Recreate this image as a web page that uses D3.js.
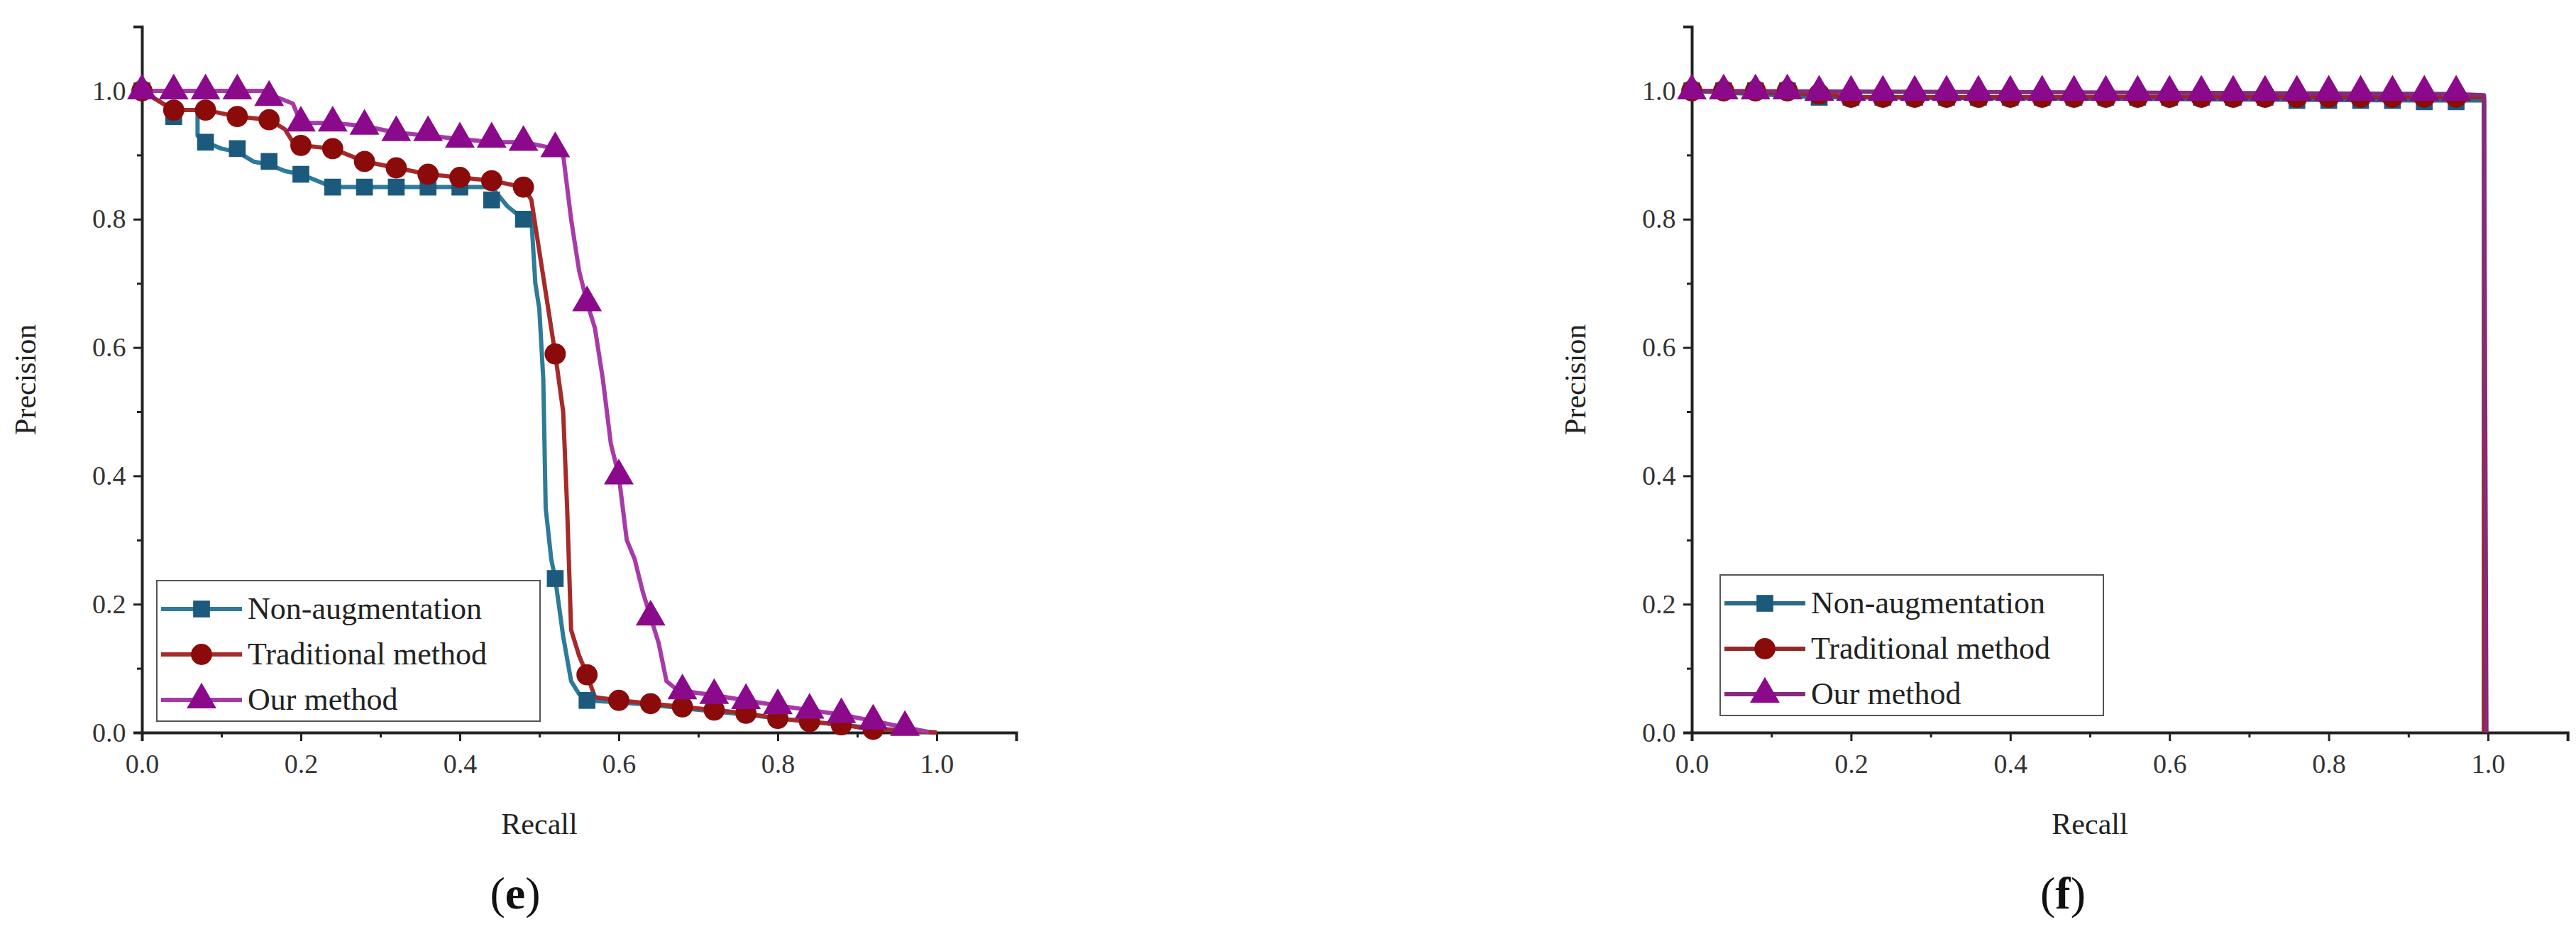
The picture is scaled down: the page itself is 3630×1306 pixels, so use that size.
<!DOCTYPE html>
<html><head><meta charset="utf-8">
<script src="https://cdn.jsdelivr.net/npm/d3@7"></script>
<style>body{margin:0;background:#fff}svg{display:block}</style></head>
<body><svg id="c" width="3630" height="1306"></svg>
<script>
const seriesNames = ["Non-augmentation","Traditional method","Our method"];
const xTicks = [0,0.2,0.4,0.6,0.8,1.0];
const yTicks = [0,0.2,0.4,0.6,0.8,1.0];
// Panel (e) lines [recall, precision]
const eNonAugLine = [[0,1],[0.04,0.97],[0.07,0.97],[0.07,0.93],[0.08,0.92],[0.1,0.91],[0.12,0.905],[0.14,0.89],[0.16,0.885],[0.18,0.875],[0.2,0.87],[0.22,0.86],[0.24,0.85],[0.44,0.85],[0.46,0.82],[0.48,0.80],[0.49,0.80],[0.495,0.70],[0.50,0.66],[0.505,0.55],[0.508,0.35],[0.515,0.27],[0.52,0.24],[0.53,0.15],[0.54,0.08],[0.55,0.06],[0.56,0.05],[0.6,0.047],[0.64,0.043],[0.68,0.038],[0.72,0.033],[0.76,0.028],[0.8,0.022],[0.84,0.017],[0.88,0.012],[0.92,0.007],[0.96,0.003],[1.0,0]];
const eNonAugPts = [[0,1],[0.04,0.96],[0.08,0.92],[0.12,0.91],[0.16,0.89],[0.2,0.87],[0.24,0.85],[0.28,0.85],[0.32,0.85],[0.36,0.85],[0.4,0.85],[0.44,0.83],[0.48,0.80],[0.52,0.24],[0.56,0.05]];
const eTradLine = [[0,1],[0.04,0.97],[0.08,0.97],[0.12,0.96],[0.16,0.955],[0.18,0.94],[0.19,0.92],[0.2,0.915],[0.24,0.91],[0.28,0.89],[0.32,0.88],[0.36,0.87],[0.4,0.865],[0.44,0.86],[0.48,0.85],[0.49,0.83],[0.5,0.75],[0.51,0.67],[0.52,0.59],[0.53,0.5],[0.535,0.35],[0.54,0.16],[0.55,0.12],[0.56,0.09],[0.57,0.055],[0.6,0.05],[0.64,0.045],[0.68,0.04],[0.72,0.035],[0.76,0.03],[0.8,0.022],[0.84,0.017],[0.88,0.012],[0.92,0.005],[0.96,0.003],[1.0,0]];
const eTradPts = [[0,1],[0.04,0.97],[0.08,0.97],[0.12,0.96],[0.16,0.955],[0.2,0.915],[0.24,0.91],[0.28,0.89],[0.32,0.88],[0.36,0.87],[0.4,0.865],[0.44,0.86],[0.48,0.85],[0.52,0.59],[0.56,0.09],[0.6,0.05],[0.64,0.045],[0.68,0.04],[0.72,0.035],[0.76,0.03],[0.8,0.022],[0.84,0.017],[0.88,0.012],[0.92,0.005]];
const eOurLine = [[0,1],[0.16,1.0],[0.17,0.99],[0.19,0.98],[0.2,0.95],[0.24,0.95],[0.28,0.945],[0.32,0.935],[0.36,0.93],[0.4,0.925],[0.44,0.92],[0.48,0.92],[0.52,0.91],[0.53,0.9],[0.54,0.8],[0.55,0.72],[0.56,0.67],[0.57,0.63],[0.58,0.55],[0.59,0.45],[0.6,0.4],[0.61,0.3],[0.62,0.27],[0.63,0.22],[0.64,0.18],[0.65,0.14],[0.66,0.08],[0.67,0.07],[0.68,0.065],[0.72,0.058],[0.76,0.05],[0.8,0.042],[0.84,0.035],[0.88,0.028],[0.92,0.018],[0.96,0.008],[0.99,0.001]];
const eOurPts = [[0,1],[0.04,1],[0.08,1],[0.12,1],[0.16,0.99],[0.2,0.95],[0.24,0.95],[0.28,0.945],[0.32,0.935],[0.36,0.935],[0.4,0.925],[0.44,0.925],[0.48,0.92],[0.52,0.91],[0.56,0.67],[0.6,0.4],[0.64,0.18],[0.68,0.065],[0.72,0.058],[0.76,0.05],[0.8,0.042],[0.84,0.035],[0.88,0.028],[0.92,0.018],[0.96,0.008]];
// Panel (f)
const fNonAugLine = [[0,1],[0.16,0.99],[0.92,0.985],[0.995,0.985],[0.995,0]];
const fNonAugPts = [[0,1],[0.04,1],[0.08,1],[0.12,1],[0.16,0.99],[0.2,0.99],[0.24,0.99],[0.28,0.99],[0.32,0.99],[0.36,0.99],[0.4,0.99],[0.44,0.99],[0.48,0.99],[0.52,0.99],[0.56,0.99],[0.6,0.99],[0.64,0.99],[0.68,0.99],[0.72,0.99],[0.76,0.985],[0.8,0.985],[0.84,0.985],[0.88,0.985],[0.92,0.983],[0.96,0.983]];
const fTradLine = [[0,1],[0.16,0.995],[0.2,0.99],[0.995,0.99],[0.995,0]];
const fTradPts = [[0,1],[0.04,1],[0.08,1],[0.12,1],[0.16,0.995],[0.2,0.99],[0.24,0.99],[0.28,0.99],[0.32,0.99],[0.36,0.99],[0.4,0.99],[0.44,0.99],[0.48,0.99],[0.52,0.99],[0.56,0.99],[0.6,0.99],[0.64,0.99],[0.68,0.99],[0.72,0.99],[0.76,0.99],[0.8,0.99],[0.84,0.99],[0.88,0.99],[0.92,0.99],[0.96,0.99]];
const fOurLine = [[0,1],[0.96,0.995],[0.995,0.993],[0.998,0]];
const fOurPts = [[0,1],[0.04,1],[0.08,1],[0.12,1],[0.16,0.998],[0.2,0.998],[0.24,0.998],[0.28,0.998],[0.32,0.998],[0.36,0.998],[0.4,0.998],[0.44,0.998],[0.48,0.998],[0.52,0.998],[0.56,0.998],[0.6,0.998],[0.64,0.998],[0.68,0.998],[0.72,0.998],[0.76,0.998],[0.8,0.998],[0.84,0.998],[0.88,0.998],[0.92,0.998],[0.96,0.998]];

const lineColors = ["#2d7a99","#a52a2a","#a63aa8"];
const markColors = ["#1b5a7d","#8b0a0a","#8b0a8b"];
const lineColorsF = ["#2d6a88","#922a2a","#862a7a"];
const svg = d3.select("#c");
const FONT = "'Liberation Serif', 'Times New Roman', serif";

function panel(o){
  const x = d3.scaleLinear().domain([0,1.1]).range([o.x0, o.x0 + (o.x1-o.x0)*1.1]);
  const y = d3.scaleLinear().domain([0,1.1]).range([1032, 1032 - (1032-128)*1.1]);
  const g = svg.append("g");
  const xa = g.append("g").attr("transform","translate(0,1032)")
    .call(d3.axisBottom(x).tickValues(d3.range(0,1.101,0.1)).tickSize(12).tickFormat(d=> (Math.round(d*10)%2===0)? d3.format(".1f")(d):""));
  const ya = g.append("g").attr("transform",`translate(${o.x0},0)`)
    .call(d3.axisLeft(y).tickValues(d3.range(0,1.101,0.1)).tickSize(12).tickFormat(d=> (Math.round(d*10)%2===0)? d3.format(".1f")(d):""));
  [xa,ya].forEach(a=>{a.select(".domain").attr("stroke","#222").attr("stroke-width",4);
    a.selectAll(".tick line").attr("stroke","#222").attr("stroke-width",3);
    a.selectAll("text").attr("font-family",FONT).attr("font-size",38).attr("fill","#333");});
  xa.selectAll(".tick").filter(d=>Math.round(d*10)%2===1).select("line").attr("y2",7);
  ya.selectAll(".tick").filter(d=>Math.round(d*10)%2===1).select("line").attr("x2",-7);
  xa.selectAll("text").attr("dy","1.1em");
  ya.selectAll("text").attr("dx","-0.2em");
  g.append("text").attr("x",(x(0)+x(1))/2).attr("y",1175).attr("text-anchor","middle")
    .attr("font-family",FONT).attr("font-size",42).attr("fill","#222").text("Recall");
  g.append("text").attr("transform",`translate(${o.x0-150},${y(0.55)}) rotate(-90)`).attr("text-anchor","middle")
    .attr("font-family",FONT).attr("font-size",42).attr("fill","#222").text("Precision");
  const lab = g.append("text").attr("x",o.labX).attr("y",1280).attr("text-anchor","middle")
    .attr("font-family",FONT).attr("font-size",64).attr("fill","#111");
  lab.append("tspan").text("(");
  lab.append("tspan").attr("font-weight","bold").text(o.letter);
  lab.append("tspan").text(")");
  const line = d3.line().x(d=>x(d[0])).y(d=>y(d[1]));
  const sym = [d3.symbolSquare,d3.symbolCircle,d3.symbolTriangle];
  const sizes = [560,700,760];
  o.series.forEach((s,i)=>{
    g.append("path").datum(s.line).attr("d",line).attr("fill","none")
      .attr("stroke",o.lc[i]).attr("stroke-width",6).attr("stroke-linejoin","round");
  });
  o.series.forEach((s,i)=>{
    g.selectAll(null).data(s.pts).join("path")
      .attr("transform",d=>`translate(${x(d[0])},${y(d[1])})`)
      .attr("d",d3.symbol().type(sym[i]).size(sizes[i])).attr("fill",markColors[i]);
  });
  // legend
  const L = o.leg;
  g.append("rect").attr("x",L.x).attr("y",L.y).attr("width",L.w).attr("height",L.h)
    .attr("fill","#fff").attr("stroke","#555").attr("stroke-width",2);
  seriesNames.forEach((n,i)=>{
    const yy = L.y + 40 + i*64;
    g.append("line").attr("x1",L.x+6).attr("x2",L.x+120).attr("y1",yy).attr("y2",yy)
      .attr("stroke",o.lc[i]).attr("stroke-width",6);
    g.append("path").attr("transform",`translate(${L.x+63},${yy})`)
      .attr("d",d3.symbol().type(sym[i]).size(sizes[i])).attr("fill",markColors[i]);
    g.append("text").attr("x",L.x+128).attr("y",yy+14).attr("font-family",FONT)
      .attr("font-size",44).attr("fill","#222").text(n);
  });
}
panel({x0:200,x1:1320,letter:"e",labX:726,lc:lineColors,
  series:[{line:eNonAugLine,pts:eNonAugPts},{line:eTradLine,pts:eTradPts},{line:eOurLine,pts:eOurPts}],
  leg:{x:221,y:818,w:540,h:198}});
panel({x0:2384,x1:3506,letter:"f",labX:2907,lc:lineColorsF,
  series:[{line:fNonAugLine,pts:fNonAugPts},{line:fTradLine,pts:fTradPts},{line:fOurLine,pts:fOurPts}],
  leg:{x:2424,y:810,w:540,h:198}});
</script></body></html>
